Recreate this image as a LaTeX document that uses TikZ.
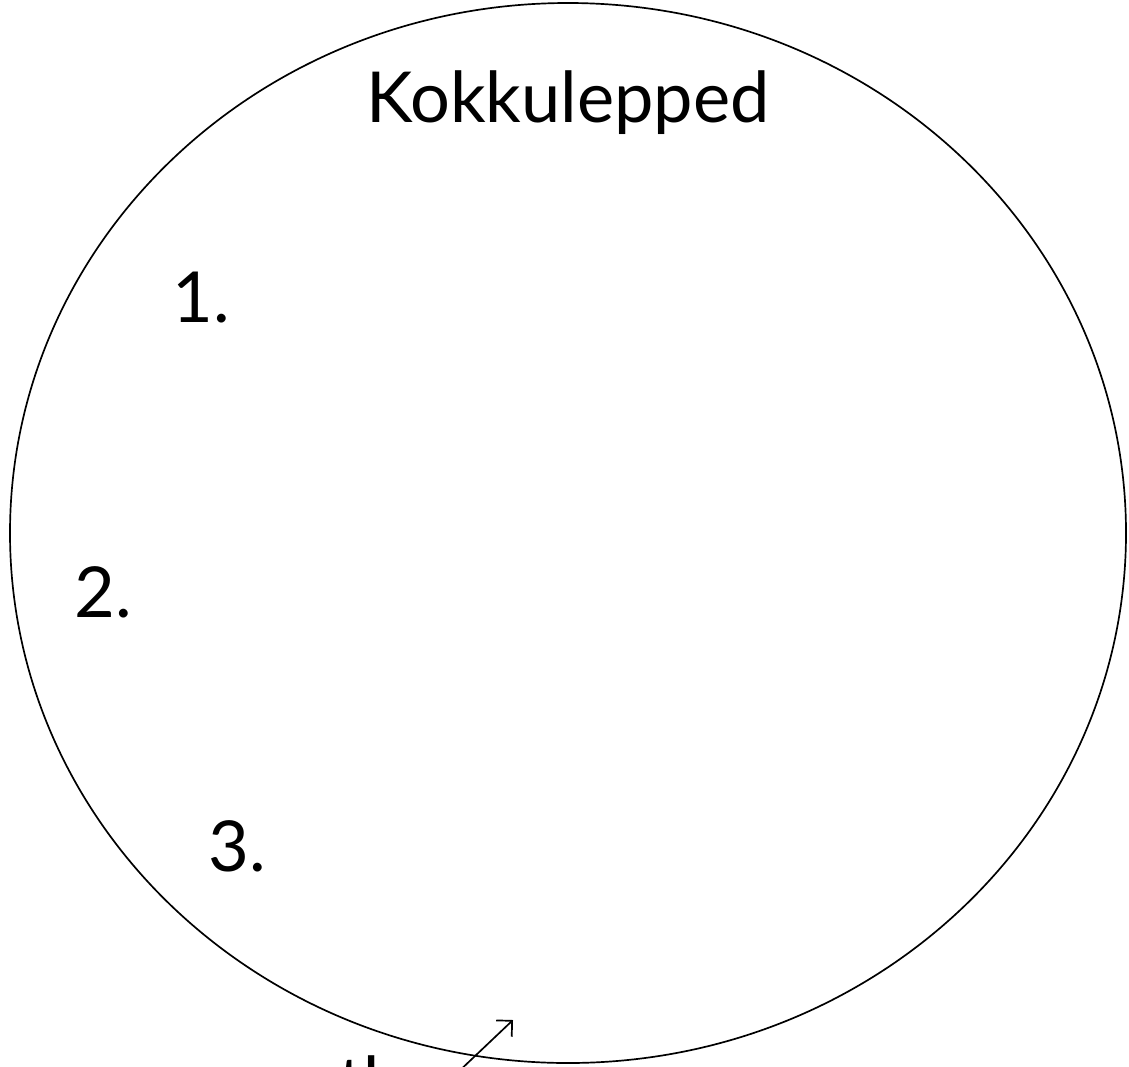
\documentclass[tikz,border=0pt]{standalone}
\usepackage{fontspec}
\setmainfont{Lato}
\usetikzlibrary{arrows.meta}

\begin{document}
\begin{tikzpicture}[x=0.025cm,y=-0.025cm,
        lbl/.style={font=\fontsize{50}{56}\selectfont,inner sep=0pt}]
        \useasboundingbox (0,0) rectangle (1129,1066);
        \draw[line width=1.2pt] (568,533) ellipse (558 and 530);
        \node[lbl,anchor=base] (title) at (568,122) {Kokkulepped};
        \node[lbl,anchor=base west] (one) at (172,322) {1.};
        \node[lbl,anchor=base west] (two) at (74,617) {2.};
        \node[lbl,anchor=base west] (three) at (208,871) {3.};
        \node[lbl,anchor=north west] (th) at (338,1055) {th};
        \coordinate (tail) at (455,1075);
        \coordinate (head) at (513,1020);
        \draw[-{Straight Barb[length=8pt,width=16pt,line width=1.2pt]},line width=1.2pt] (tail) -- (head);
    \end{tikzpicture}
\end{document}
